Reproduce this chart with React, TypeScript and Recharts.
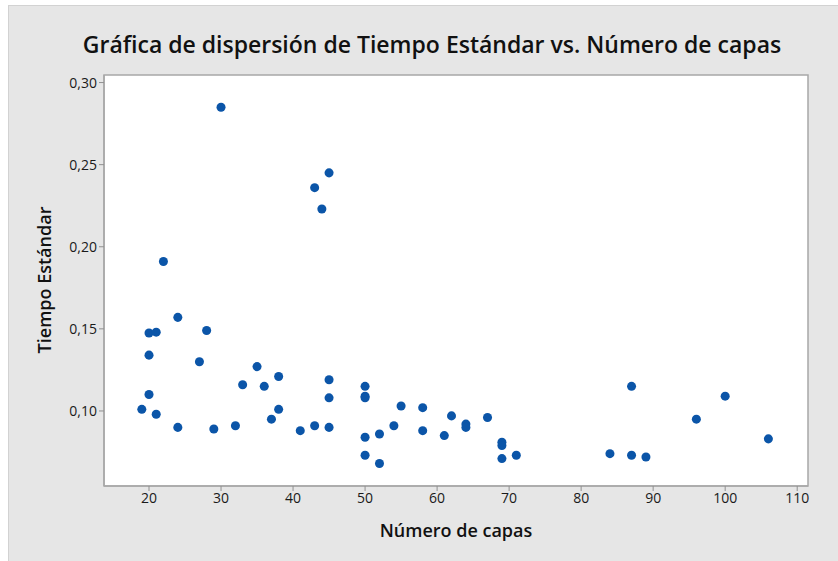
import { ScatterChart, Scatter, XAxis, YAxis, ZAxis, ReferenceArea } from 'recharts';

const capas = [
  19, 20, 20, 20, 21, 21, 22, 24, 24, 27, 28, 29, 30, 32, 33, 35, 36, 37, 38, 38,
  41, 43, 43, 44, 45, 45, 45, 45, 50, 50, 50, 50, 50, 52, 52, 54, 55, 58, 58, 61,
  62, 64, 64, 67, 69, 69, 69, 71, 84, 87, 87, 89, 96, 100, 106,
];
const tiempo = [
  0.101, 0.1475, 0.134, 0.110, 0.148, 0.098, 0.191, 0.157, 0.090, 0.130, 0.149, 0.089, 0.285, 0.091, 0.116, 0.127, 0.115, 0.095, 0.121, 0.101,
  0.088, 0.091, 0.236, 0.223, 0.245, 0.119, 0.108, 0.090, 0.115, 0.109, 0.108, 0.084, 0.073, 0.086, 0.068, 0.091, 0.103, 0.102, 0.088, 0.085,
  0.097, 0.092, 0.090, 0.096, 0.081, 0.079, 0.071, 0.073, 0.074, 0.115, 0.073, 0.072, 0.095, 0.109, 0.083,
];
const xTicks = [20, 30, 40, 50, 60, 70, 80, 90, 100, 110];
const yTicks = [0.1, 0.15, 0.2, 0.25, 0.3];

const X_MIN = 13.75;
const X_MAX = 111.5;
const Y_MIN = 0.0543;
const Y_MAX = 0.3046;

const data = capas.map((c, i) => ({ capas: c, tiempo: tiempo[i] }));

const FONT = '"Open Sans", "Noto Sans", sans-serif';
const fmt = (v: number) => v.toFixed(2).replace('.', ',');

export default function App() {
  return (
    <div
      style={{
        position: 'absolute',
        left: 8,
        top: 5,
        width: 830,
        height: 556,
        background: '#e6e6e6',
        border: '1px solid #d2d2d2',
        fontFamily: FONT,
      }}
    >
      <div
        style={{
          position: 'absolute',
          left: 0,
          top: 22,
          width: 846,
          textAlign: 'center',
          fontSize: 23,
          fontWeight: 600,
          color: '#111',
        }}
      >
        Gráfica de dispersión de Tiempo Estándar vs. Número de capas
      </div>
      <ScatterChart width={830} height={556} margin={{ top: 69, right: 31, bottom: 46, left: 40 }}>
        <ReferenceArea
          x1={X_MIN}
          x2={X_MAX}
          y1={Y_MIN}
          y2={Y_MAX}
          fill="#ffffff"
          fillOpacity={1}
          stroke="#a8a8a8"
          strokeWidth={1.5}
        />
        <XAxis
          type="number"
          dataKey="capas"
          domain={[X_MIN, X_MAX]}
          ticks={xTicks}
          allowDataOverflow
          height={30}
          tickSize={5}
          axisLine={{ stroke: '#a8a8a8', strokeWidth: 1.5 }}
          tickLine={{ stroke: '#909090' }}
          tick={{ fill: '#1a1a1a', fontSize: 14, fontFamily: FONT }}
          label={{
            content: () => (
              <text x={447} y={531} textAnchor="middle" fontSize={18} fontWeight={600} fill="#111" fontFamily={FONT}>
                Número de capas
              </text>
            ),
          }}
        />
        <YAxis
          type="number"
          dataKey="tiempo"
          domain={[Y_MIN, Y_MAX]}
          ticks={yTicks}
          allowDataOverflow
          width={55}
          tickSize={5}
          tickFormatter={fmt}
          axisLine={{ stroke: '#a8a8a8', strokeWidth: 1.5 }}
          tickLine={{ stroke: '#909090' }}
          tick={{ fill: '#1a1a1a', fontSize: 14, fontFamily: FONT }}
          label={{
            content: () => (
              <text
                x={42}
                y={274}
                textAnchor="middle"
                fontSize={18}
                fontWeight={600}
                fill="#111"
                fontFamily={FONT}
                transform="rotate(-90, 42, 274)"
              >
                Tiempo Estándar
              </text>
            ),
          }}
        />
        <ZAxis range={[110, 110]} />
        <Scatter data={data} fill="#0b55a8" shape="circle" isAnimationActive={false} />
      </ScatterChart>
    </div>
  );
}
